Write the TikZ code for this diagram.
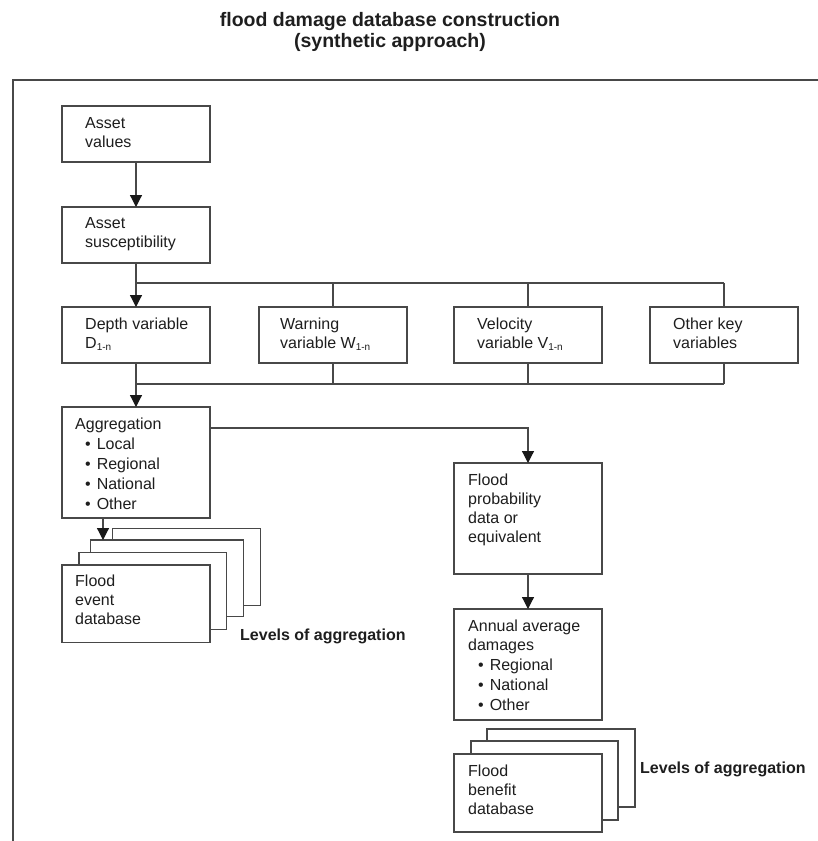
\documentclass[tikz,border=0pt]{standalone}
\usepackage{fontspec}
\setmainfont{Liberation Sans}
\usetikzlibrary{arrows.meta,calc}
\definecolor{linec}{HTML}{484848}
\definecolor{textc}{HTML}{1E1E1E}
\newcommand\sbs[1]{\raisebox{-2.5pt}{\fontsize{10}{10}\selectfont #1}}
\newcommand\bul{\hspace*{10pt}\textbullet\hspace{6pt}}
\tikzset{
  box/.style={draw=linec, line width=1.2pt, fill=white, rectangle, inner sep=0pt, outer sep=0pt, anchor=north west},
  txt/.style={anchor=base west, inner sep=0pt, text=textc, font=\fontsize{16}{19}\selectfont},
  bold/.style={inner sep=0pt, text=textc, font=\bfseries\fontsize{16}{19}\selectfont},
  ttl/.style={inner sep=0pt, anchor=base, text=textc, font=\bfseries\fontsize{19.5}{21}\selectfont},
  conn/.style={draw=linec, line width=1.2pt},
  arr/.style={conn, -{Triangle[width=12pt,length=12pt,color=black!90]}},
}
\begin{document}
\begin{tikzpicture}[x=1pt,y=-1pt]
\useasboundingbox (0,0) rectangle (818,841);
% title
\node[ttl] (t1) at (390,26) {flood damage database construction};
\node[ttl] (t2) at (390,47) {(synthetic approach)};
% frame
\coordinate (fbl) at (13,841);
\coordinate (ftl) at (13,80);
\coordinate (ftr) at (818,80);
\draw[conn] (fbl) -- (ftl) -- (ftr);
% boxes
\node[box, minimum width=148pt, minimum height=56pt] (av) at (62,106) {};
\node[box, minimum width=148pt, minimum height=56pt] (as) at (62,207) {};
\node[box, minimum width=148pt, minimum height=56pt] (dv) at (62,307) {};
\node[box, minimum width=148pt, minimum height=56pt] (wv) at (259,307) {};
\node[box, minimum width=148pt, minimum height=56pt] (vv) at (454,307) {};
\node[box, minimum width=148pt, minimum height=56pt] (ok) at (650,307) {};
\node[box, minimum width=148pt, minimum height=111pt] (ag) at (62,407) {};
\node[box, minimum width=148pt, minimum height=111pt] (fp) at (454,463) {};
\node[box, minimum width=148pt, minimum height=111pt] (aa) at (454,609) {};
% flood event stack
\node[box, minimum width=148.4pt, minimum height=77.4pt] (fe4) at (112.3,528.3) {};
\node[box, minimum width=152.6pt, minimum height=76.7pt] (fe3) at (90.7,540) {};
\node[box, minimum width=147.7pt, minimum height=76.6pt] (fe2) at (79,552.7) {};
\node[box, minimum width=148pt, minimum height=77.3pt] (fe) at (62,565) {};
% flood benefit stack
\node[box, minimum width=148pt, minimum height=78pt] (fb3) at (487,729) {};
\node[box, minimum width=147pt, minimum height=79pt] (fb2) at (471,741) {};
\node[box, minimum width=148pt, minimum height=78pt] (fb) at (454,754) {};
% texts
\node[txt] (avt) at (85,128) {\parbox[t]{120pt}{Asset\\values}};
\node[txt] (ast) at (85,228) {\parbox[t]{120pt}{Asset\\susceptibility}};
\node[txt] (dvt) at (85,329) {\parbox[t]{120pt}{Depth variable\\D\sbs{1-n}}};
\node[txt] (wvt) at (280,329) {\parbox[t]{120pt}{Warning\\variable W\sbs{1-n}}};
\node[txt] (vvt) at (477,329) {\parbox[t]{120pt}{Velocity\\variable V\sbs{1-n}}};
\node[txt] (okt) at (673,329) {\parbox[t]{120pt}{Other key\\variables}};
\node[txt] (agt) at (75,429) {\parbox[t]{130pt}{Aggregation\\[1pt]\bul Local\\[1pt]\bul Regional\\[1pt]\bul National\\[1pt]\bul Other}};
\node[txt] (fet) at (75,586) {\parbox[t]{120pt}{Flood\\event\\database}};
\node[txt] (fpt) at (468,485) {\parbox[t]{130pt}{Flood\\probability\\data or\\equivalent}};
\node[txt] (aat) at (468,631) {\parbox[t]{130pt}{Annual average\\damages\\[1pt]\bul Regional\\[1pt]\bul National\\[1pt]\bul Other}};
\node[txt] (fbt) at (468,776) {\parbox[t]{130pt}{Flood\\benefit\\database}};
\node[bold, anchor=base west] (lv1) at (240,640) {Levels of aggregation};
\node[bold, anchor=base west] (lv2) at (640,773) {Levels of aggregation};
% connectors
\coordinate (b1) at ($(dv.north)+(0,-24)$);
\coordinate (b1w) at (wv.north |- b1);
\coordinate (b1v) at (vv.north |- b1);
\coordinate (b1o) at (ok.north |- b1);
\coordinate (b2) at ($(dv.south)+(0,21)$);
\coordinate (b2w) at (wv.south |- b2);
\coordinate (b2v) at (vv.south |- b2);
\coordinate (b2o) at (ok.south |- b2);
\coordinate (agr) at ($(ag.north east)+(0,21)$);
\coordinate (agc) at (fp.north |- agr);
\coordinate (ags) at ($(ag.south west)+(41,0)$);
\draw[arr] (av.south) -- (as.north);
\draw[conn] (as.south) -- (b1);
\draw[arr] (b1) -- (dv.north);
\draw[conn] (b1) -- (b1o);
\draw[conn] (b1w) -- (wv.north);
\draw[conn] (b1v) -- (vv.north);
\draw[conn] (b1o) -- (ok.north);
\draw[conn] (dv.south) -- (b2);
\draw[conn] (wv.south) -- (b2w);
\draw[conn] (vv.south) -- (b2v);
\draw[conn] (ok.south) -- (b2o);
\draw[conn] (b2) -- (b2o);
\draw[arr] (b2) -- (ag.north);
\draw[arr] (agr) -- (agc) -- (fp.north);
\draw[arr] (fp.south) -- (aa.north);
\draw[arr] (ags) -- (ags |- fe3.north);
\end{tikzpicture}
\end{document}
